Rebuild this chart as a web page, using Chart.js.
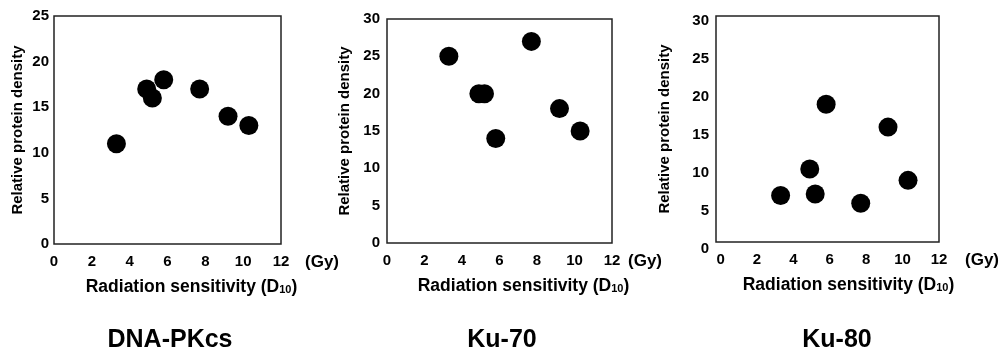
<!DOCTYPE html>
<html>
<head>
<meta charset="utf-8">
<script src="https://cdn.jsdelivr.net/npm/chart.js@4.4.1/dist/chart.umd.min.js"></script>
<style>
  html, body { margin: 0; padding: 0; background: #fff; }
  body { width: 1001px; height: 355px; position: relative; overflow: hidden; }
  .panel { position: absolute; top: 0; }
</style>
</head>
<body>
<canvas id="c1" class="panel" width="345" height="355" style="left:0px"></canvas>
<canvas id="c2" class="panel" width="345" height="355" style="left:330px"></canvas>
<canvas id="c3" class="panel" width="347" height="355" style="left:654px"></canvas>
<script>
// D10 of the seven cell lines (Gy), shared by the three panels
const d10 = [3.3, 4.9, 5.2, 5.8, 7.7, 9.2, 10.3];
// relative protein density per panel
const dnaPkcs = [11, 17, 16, 18, 17, 14, 13];
const ku70 = [25, 20, 20, 14, 27, 18, 15];
const ku80 = [7, 10.5, 7.2, 19, 6, 16, 9];

const xTicks = [0, 2, 4, 6, 8, 10, 12];
const yTicks25 = [0, 5, 10, 15, 20, 25];
const yTicks30 = [0, 5, 10, 15, 20, 25, 30];
const panelNames = ['DNA-PKcs', 'Ku-70', 'Ku-80'];

const FONT = '"Liberation Sans", Arial, Helvetica, sans-serif';
const H = 355;

// box round the plot area
const frame = {
    id: 'frame',
    beforeDatasetsDraw(chart) {
        const { ctx, chartArea: a } = chart;
        ctx.save();
        ctx.strokeStyle = '#222';
        ctx.lineWidth = 1.5;
        ctx.strokeRect(a.left, a.top, a.right - a.left, a.bottom - a.top);
        ctx.restore();
    }
};

// x title with subscript, unit label and panel name
const panelText = {
    id: 'panelText',
    afterDraw(chart, args, opts) {
        const { ctx, chartArea: a } = chart;
        ctx.save();
        ctx.fillStyle = '#000';
        ctx.textBaseline = 'middle';

        ctx.font = 'bold 17px ' + FONT;
        ctx.textAlign = 'left';
        ctx.fillText('(Gy)', a.right + opts.unitGap, a.bottom + 18);

        const main = 'Radiation sensitivity (D', sub = '10', end = ')';
        ctx.font = 'bold 17.5px ' + FONT;
        const w1 = ctx.measureText(main).width;
        const w3 = ctx.measureText(end).width;
        ctx.font = 'bold 11px ' + FONT;
        const w2 = ctx.measureText(sub).width;
        let x = (a.left + a.right) / 2 + opts.titleShift - (w1 + w2 + w3) / 2;
        const y = a.bottom + 43;
        ctx.font = 'bold 17.5px ' + FONT;
        ctx.fillText(main, x, y);
        x += w1;
        ctx.font = 'bold 11px ' + FONT;
        ctx.fillText(sub, x, y + 3);
        x += w2;
        ctx.font = 'bold 17.5px ' + FONT;
        ctx.fillText(end, x, y);

        ctx.font = 'bold 25px ' + FONT;
        ctx.textAlign = 'center';
        ctx.fillText(opts.name, opts.nameX, 340);
        ctx.restore();
    }
};

function makePanel(id, values, cfg) {
    const canvas = document.getElementById(id);
    const W = canvas.width;
    return new Chart(canvas, {
        type: 'scatter',
        data: {
            datasets: [{
                data: d10.map((v, i) => ({ x: v, y: values[i] })),
                backgroundColor: '#000',
                borderWidth: 0,
                pointRadius: 9.5,
                pointHoverRadius: 9.5
            }]
        },
        options: {
            responsive: false,
            animation: false,
            events: [],
            layout: { padding: { left: 0, right: W - cfg.R, top: cfg.T, bottom: 0 } },
            plugins: {
                legend: { display: false },
                tooltip: { enabled: false },
                panelText: { name: cfg.name, nameX: cfg.nameX, unitGap: cfg.unitGap, titleShift: cfg.titleShift }
            },
            scales: {
                x: {
                    type: 'linear',
                    min: cfg.xMin,
                    max: 12,
                    afterBuildTicks: s => { s.ticks = xTicks.map(v => ({ value: v })); },
                    afterFit: s => { s.height = H - cfg.B; },
                    grid: { display: false, drawTicks: false },
                    border: { display: false },
                    ticks: {
                        color: '#000',
                        padding: 9,
                        autoSkip: false,
                        maxRotation: 0,
                        font: { family: FONT, size: 15, weight: 'bold' }
                    }
                },
                y: {
                    min: cfg.yMin,
                    max: cfg.yMax,
                    afterBuildTicks: s => { s.ticks = cfg.yTicks.map(v => ({ value: v })); },
                    afterFit: s => { s.width = cfg.L; },
                    grid: { display: false, drawTicks: false },
                    border: { display: false },
                    ticks: {
                        color: '#000',
                        padding: cfg.yPad,
                        autoSkip: false,
                        font: { family: FONT, size: 15, weight: 'bold' }
                    },
                    title: {
                        display: true,
                        text: 'Relative protein density',
                        color: '#000',
                        font: { family: FONT, size: 15, weight: 'bold' },
                        padding: { top: cfg.yTitlePad, bottom: 0 }
                    }
                }
            }
        },
        plugins: [frame, panelText]
    });
}

makePanel('c1', dnaPkcs, {
    name: panelNames[0], nameX: 170, L: 54, R: 281, T: 16, B: 244,
    xMin: 0, yMin: 0, yMax: 25, yTicks: yTicks25,
    yPad: 5, yTitlePad: 9, unitGap: 24, titleShift: 24
});
makePanel('c2', ku70, {
    name: panelNames[1], nameX: 172, L: 57, R: 282, T: 19, B: 243,
    xMin: 0, yMin: 0, yMax: 30, yTicks: yTicks30,
    yPad: 7, yTitlePad: 6, unitGap: 16, titleShift: 24
});
// the Ku-80 frame sits a little off its tick labels in the original
makePanel('c3', ku80, {
    name: panelNames[2], nameX: 183, L: 62, R: 285, T: 13, B: 242,
    xMin: -0.25, yMin: 0.9, yMax: 30.6, yTicks: yTicks30,
    yPad: 7, yTitlePad: 2, unitGap: 26, titleShift: 21
});
</script>
</body>
</html>
